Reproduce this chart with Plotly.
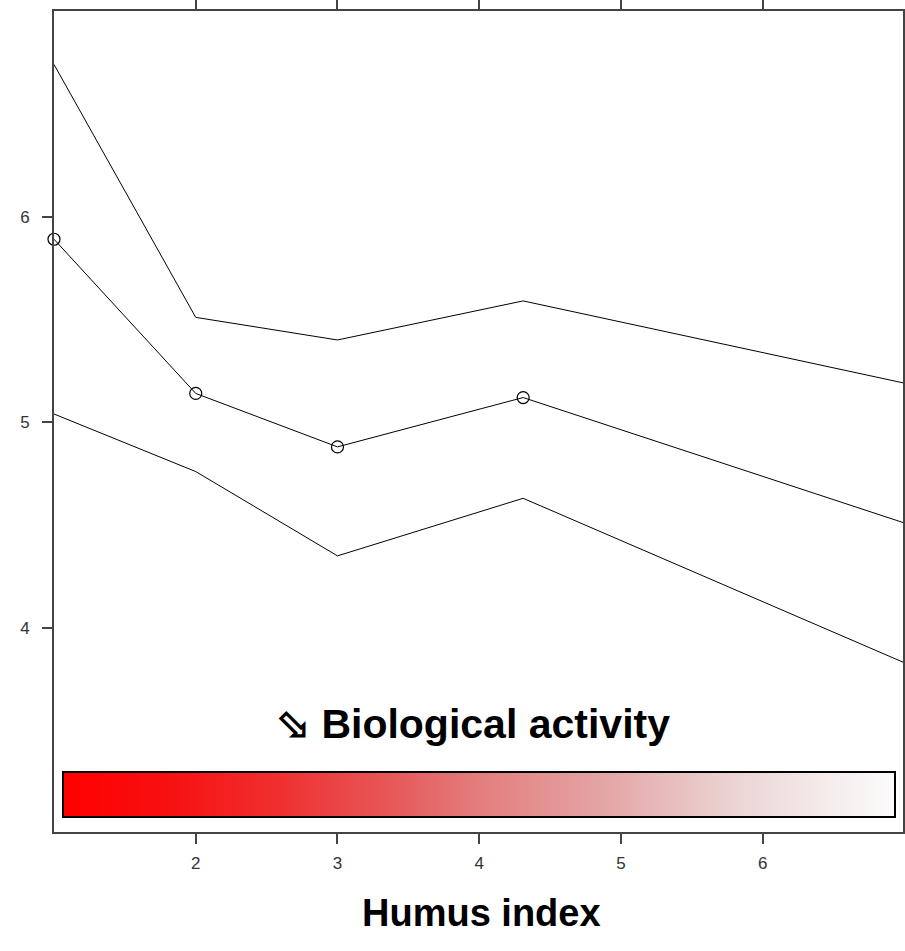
import plotly.graph_objects as go

# Data
humus = [1.0, 2.0, 3.0, 4.31, 7.0]
mean_vals = [5.89, 5.14, 4.88, 5.12, 4.51]
upper_vals = [6.74, 5.51, 5.40, 5.59, 5.19]
lower_vals = [5.04, 4.76, 4.35, 4.63, 3.83]
marker_x = [1.0, 2.0, 3.0, 4.31]
marker_y = [5.89, 5.14, 4.88, 5.12]
x_ticks = [2, 3, 4, 5, 6]
y_ticks = [4, 5, 6]

W, H = 905, 951
ml, mr, mt, mb = 54, 2, 11, 119
pw = W - ml - mr
ph = H - mt - mb

line_style = dict(color="black", width=1)

fig = go.Figure()
fig.add_trace(go.Scatter(x=humus, y=upper_vals, mode="lines", line=line_style,
                         showlegend=False, hoverinfo="skip"))
fig.add_trace(go.Scatter(x=humus, y=lower_vals, mode="lines", line=line_style,
                         showlegend=False, hoverinfo="skip"))
fig.add_trace(go.Scatter(x=humus, y=mean_vals, mode="lines", line=line_style,
                         showlegend=False, hoverinfo="skip"))
fig.add_trace(go.Scatter(x=marker_x, y=marker_y, mode="markers",
                         marker=dict(symbol="circle-open", size=12,
                                     color="black", line=dict(width=1.2)),
                         showlegend=False, hoverinfo="skip", cliponaxis=False))

colorscale = [
    [0.0, "rgb(255,0,0)"],
    [0.12, "rgb(248,15,15)"],
    [0.25, "rgb(240,45,45)"],
    [0.4, "rgb(230,90,90)"],
    [0.5, "rgb(228,125,125)"],
    [0.65, "rgb(228,165,165)"],
    [0.8, "rgb(235,210,210)"],
    [0.9, "rgb(243,232,232)"],
    [1.0, "rgb(252,251,251)"],
]

fig.add_trace(go.Scatter(
    x=[None], y=[None], mode="markers", showlegend=False, hoverinfo="skip",
    marker=dict(color=[0], cmin=0, cmax=1, colorscale=colorscale, showscale=True,
                colorbar=dict(orientation="h",
                              x=(63 - ml) / pw, xanchor="left",
                              y=(mt + ph - 819) / ph, yanchor="bottom",
                              len=(895 - 63) / pw, lenmode="fraction",
                              thickness=45, thicknessmode="pixels",
                              outlinewidth=2, outlinecolor="black",
                              xpad=0, ypad=0, showticklabels=False, ticks=""))))

axis_common = dict(showgrid=False, zeroline=False, showline=True, linecolor="#444",
                   linewidth=2, mirror="ticks", ticks="outside", ticklen=10,
                   tickcolor="#444", tickwidth=1.5,
                   tickfont=dict(family="Liberation Sans", size=17, color="#333"))

fig.update_layout(
    width=W, height=H,
    margin=dict(l=ml, r=mr, t=mt, b=mb, autoexpand=False),
    plot_bgcolor="white", paper_bgcolor="white",
    xaxis=dict(range=[1.0, 6.99], tickvals=x_ticks, ticklabelstandoff=5, **axis_common),
    yaxis=dict(range=[3.007, 7.0], tickvals=y_ticks, ticklabelstandoff=9, **axis_common),
    annotations=[
        dict(text="⬂ Biological activity", xref="paper", yref="paper",
             x=(473 - ml) / pw, y=(mt + ph - 724) / ph, xanchor="center", yanchor="middle",
             showarrow=False,
             font=dict(family="Liberation Sans", size=41, color="black", weight="bold")),
        dict(text="Humus index", xref="paper", yref="paper",
             x=(481 - ml) / pw, y=(mt + ph - 913) / ph, xanchor="center", yanchor="middle",
             showarrow=False,
             font=dict(family="Liberation Sans", size=38, color="black", weight="bold")),
    ],
)

fig.write_html("out.html")
